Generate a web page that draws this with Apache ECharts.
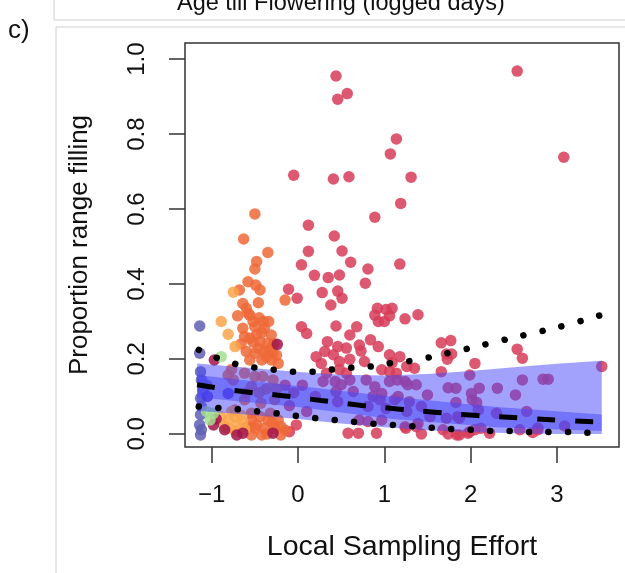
<!DOCTYPE html>
<html><head><meta charset="utf-8">
<script src="https://cdn.jsdelivr.net/npm/echarts@6/dist/echarts.min.js"></script>
<style>html,body{margin:0;padding:0;background:#fff}#c{width:625px;height:573px}</style>
</head><body><div id="c"></div>
<script>
const xTicks = [-1, 0, 1, 2, 3];
const yTicks = [0, 0.2, 0.4, 0.6, 0.8, 1.0];

const redPts = [
[0.44,0.955],[0.57,0.908],[0.46,0.893],[2.54,0.968],[1.14,0.787],[1.07,0.747],[3.08,0.738],
[-0.05,0.69],[0.41,0.68],[0.59,0.686],[1.31,0.685],[1.19,0.615],[0.89,0.578],[0.12,0.557],[0.42,0.528],
[0.12,0.487],[0.51,0.488],[0.61,0.458],[0.04,0.451],[1.18,0.453],[0.19,0.423],[0.35,0.417],[0.48,0.424],[0.81,0.44],
[0.78,0.402],[-0.11,0.386],[0.28,0.377],[0.46,0.381],[0.51,0.362],[-0.01,0.362],[0.38,0.344],
[0.92,0.335],[1.02,0.332],[1.09,0.335],[0.89,0.317],[1.06,0.315],[0.93,0.3],[1.0,0.3],[1.24,0.307],[1.39,0.318],
[0.04,0.286],[0.44,0.288],[0.68,0.286],[0.10,0.268],[0.60,0.264],
[0.34,0.246],[0.46,0.233],[0.71,0.237],[0.84,0.251],[0.93,0.233],[0.73,0.221],[0.31,0.22],[0.41,0.211],[0.21,0.206],
[0.60,0.199],[0.77,0.193],[1.06,0.211],[1.18,0.206],[0.27,0.188],[0.48,0.193],[1.26,0.18],[0.97,0.171],[1.06,0.166],
[1.14,0.162],[0.48,0.172],[0.56,0.162],[0.33,0.162],[0.56,0.229],[1.09,0.19],
[1.66,0.243],[1.77,0.249],[1.72,0.213],[1.78,0.213],[1.73,0.199],[1.66,0.166],[2.05,0.188],[1.35,0.175],
[2.54,0.226],[2.60,0.202],[3.52,0.18],
[1.99,0.157],[1.15,0.144],[1.27,0.131],[1.37,0.131],[1.74,0.123],[1.83,0.122],[2.10,0.122],[2.31,0.122],[2.60,0.144],[2.84,0.146],[2.90,0.146],
[1.50,0.104],[2.01,0.108],[2.02,0.091],[2.52,0.104],[1.83,0.084],[2.07,0.084],[1.12,0.091],[1.43,0.073],[2.09,0.064],[2.65,0.06],
[2.30,0.055],[3.09,0.021],[1.85,0.046],[1.72,0.042],[1.53,0.046],[1.39,0.028],[2.78,0.016],[1.29,0.086],[2.12,0.015],[1.37,0.019],[1.87,0.042],
[0.29,0.14],[0.43,0.14],[0.50,0.131],[0.60,0.144],[0.79,0.144],[0.89,0.126],[0.97,0.108],[1.06,0.14],[1.24,0.14],
[0.44,0.113],[0.64,0.113],[0.87,0.1],[0.95,0.091],[1.16,0.1],[0.46,0.086],[1.02,0.068],[0.81,0.073],[1.26,0.06],
[0.71,0.037],[0.81,0.033],[0.97,0.037],[1.24,0.019],
[-0.15,0.13],[-0.05,0.11],[0.05,0.13],[-0.1,0.075],[0.1,0.06],[0.2,0.1],
[1.25,0.015],[1.43,0.0],[1.68,0.011],[1.74,0.0],[1.84,-0.003],[1.87,-0.003],[1.97,0.002],[1.99,0.006],[2.22,0.002],[2.72,0.004],[2.78,0.011],[2.05,0.011],[2.57,0.011],
[0.58,0.002],[0.70,0.002],[0.91,0.002],[-0.10,0.006],[-0.02,0.024]
];
const orangePts = [
[-0.50,0.587],[-0.63,0.52],[-0.35,0.484],[-0.48,0.46],[-0.50,0.44],[-0.58,0.406],[-0.49,0.397],[-0.44,0.384],[-0.68,0.384],
[-0.15,0.357],[-0.64,0.348],[-0.46,0.35],[-0.60,0.335],[-0.58,0.322],[-0.70,0.315],[-0.56,0.317],[-0.64,0.282],[-0.50,0.286],
[-0.39,0.282],[-0.31,0.264],[-0.56,0.255],[-0.44,0.246],[-0.35,0.242],[-0.60,0.22],[-0.50,0.215],[-0.39,0.22],[-0.29,0.215],
[-0.56,0.197],[-0.42,0.197],[-0.31,0.197],[-0.23,0.188],
[-0.45,0.31],[-0.40,0.30],[-0.52,0.30],[-0.34,0.30],[-0.42,0.27],[-0.48,0.265],[-0.62,0.26],[-0.33,0.225],[-0.46,0.228],[-0.52,0.245],[-0.28,0.24],[-0.66,0.24],[-0.37,0.205],[-0.25,0.21],
[-0.77,0.172],[-0.81,0.157],[-0.75,0.144],[-0.62,0.162],[-0.50,0.153],[-0.41,0.153],[-0.29,0.144],[-0.54,0.126],[-0.37,0.12],
[-0.62,0.091],[-0.43,0.082],[-0.27,0.091],[-0.73,0.064],[-0.54,0.055],[-0.32,0.055],[-0.45,0.11],[-0.6,0.11],[-0.25,0.12],
[-0.54,0.037],[-0.44,0.046],[-0.35,0.037],[-0.23,0.037],[-0.50,0.015],[-0.39,0.015],[-0.27,0.015],[-0.20,0.02],
[-0.54,-0.003],[-0.42,-0.003],[-0.20,-0.003],[-0.48,0.024],[-0.30,0.03],[-0.15,0.01],[-0.58,0.02],[-0.36,0.0]
];
const lightOrangePts = [
[-0.75,0.378],[-0.89,0.30],[-0.81,0.266],[-0.73,0.233],[-0.89,0.046],[-0.81,0.037],[-0.73,0.046],[-0.70,0.024],
[-0.81,0.016],[-0.64,0.033],[-0.73,0.008],[-0.86,0.022],[-0.77,0.06],[-0.66,0.05],[-0.62,0.012]
];
const magentaPts = [[-0.24,0.239],[-0.97,0.197],[-0.95,0.04],[-0.98,0.024],[-0.85,0.011],[-0.71,-0.003],[-0.64,0.002],[-0.29,0.002]];
const slatePts = [[-1.14,0.288],[-1.14,0.215],[-1.13,0.166],[-1.12,0.144],[-1.10,0.117],[-1.13,0.095],[-1.12,0.073],[-1.13,0.051],[-1.14,0.024],[-1.12,0.011],[-1.13,-0.003],[-1.06,0.13]];
const greenPts = [[-0.89,0.206],[-1.02,0.037],[-0.98,0.055],[-1.06,0.06]];
const bluePts = [[-0.81,0.108],[-1.05,0.1]];

// prediction band (outer) and confidence band (inner)
const bandX = [-1.17, -0.5, 0, 0.5, 1.0, 1.5, 2.0, 2.5, 3.0, 3.52];
const bandLower = [0.062, 0.05, 0.04, 0.028, 0.018, 0.01, 0.005, 0.002, 0.0, 0.0];
const bandUpper = [0.188, 0.175, 0.165, 0.158, 0.156, 0.160, 0.168, 0.178, 0.187, 0.195];
const innerX = [-1.17, 0, 1.1, 2.3, 3.52];
const innerLower = [0.098, 0.072, 0.04, 0.018, 0.008];
const innerUpper = [0.157, 0.128, 0.099, 0.072, 0.052];
// fitted line
const fitX = [-1.17, -0.64, -0.18, 0.27, 0.74, 1.18, 1.62, 2.08, 2.55, 3.0, 3.52];
const fitY = [0.131, 0.113, 0.102, 0.089, 0.076, 0.066, 0.057, 0.049, 0.043, 0.037, 0.031];
// dotted bounds
const upX = [-1.15,-0.93,-0.73,-0.5,-0.27,-0.05,0.17,0.4,0.63,0.85,1.08,1.31,1.75,2.19,2.63,3.07,3.51];
const upY = [0.224,0.202,0.187,0.177,0.171,0.166,0.166,0.172,0.177,0.18,0.189,0.195,0.216,0.24,0.264,0.288,0.317];
const loX = [-1.15,-0.93,-0.7,-0.47,-0.25,-0.02,0.2,0.42,0.65,0.87,1.1,1.33,1.56,1.78,2.01,2.24,2.47,2.7,2.92,3.15,3.37,3.51];
const loY = [0.073,0.069,0.066,0.06,0.055,0.048,0.042,0.037,0.032,0.027,0.024,0.02,0.016,0.013,0.011,0.008,0.008,0.005,0.005,0.005,0.003,0.003];

const FONT = 'Liberation Sans, Arial, sans-serif';
const zip = (xs, ys) => xs.map((x, i) => [x, ys[i]]);

function scat(data, color) {
  return { type: 'scatter', data, symbolSize: 11.5, itemStyle: { color, opacity: 1 }, silent: true, z: 2 };
}
function band(xs, lo, hi) {
  return {
    type: 'custom', silent: true, z: 3, data: [[xs[0], lo[0]]],
    encode: { x: 0, y: 1 },
    renderItem: function (params, api) {
      const top = xs.map((x, i) => api.coord([x, hi[i]]));
      const bot = xs.map((x, i) => api.coord([x, lo[i]])).reverse();
      return { type: 'polygon', shape: { points: top.concat(bot) }, style: { fill: 'rgba(70,70,250,0.5)' } };
    }
  };
}

const chart = echarts.init(document.getElementById('c'), null, { renderer: 'canvas' });
chart.setOption({
  animation: false,
  backgroundColor: '#fff',
  grid: { left: 185, right: 6, top: 43, bottom: 126, show: true, borderColor: '#333', borderWidth: 1.5 },
  xAxis: {
    type: 'value', min: -1.31, max: 3.72,
    name: 'Local Sampling Effort', nameLocation: 'middle', nameGap: 86,
    nameTextStyle: { fontFamily: FONT, fontSize: 28.5, color: '#111' },
    axisLine: { show: false, onZero: false },
    axisTick: { show: true, length: 16, customValues: xTicks, lineStyle: { color: '#333', width: 1.5 } },
    axisLabel: { customValues: xTicks, margin: 36, fontFamily: FONT, fontSize: 24, color: '#111',
      formatter: v => (v < 0 ? '\u2212' + Math.abs(v) : String(v)) },
    splitLine: { show: false }
  },
  yAxis: {
    type: 'value', min: -0.035, max: 1.043,
    name: 'Proportion range filling', nameLocation: 'middle', nameGap: 92, nameRotate: 90,
    nameTextStyle: { fontFamily: FONT, fontSize: 26, color: '#111' },
    axisLine: { show: false, onZero: false },
    axisTick: { show: true, length: 16, customValues: yTicks, lineStyle: { color: '#333', width: 1.5 } },
    axisLabel: { customValues: yTicks, rotate: 90, margin: 36, fontFamily: FONT, fontSize: 24, color: '#111',
      formatter: v => v.toFixed(1) },
    splitLine: { show: false }
  },
  graphic: [
    { type: 'line', shape: { x1: 54, y1: 0, x2: 54, y2: 20 }, style: { stroke: '#d0d0d0', lineWidth: 1 } },
    { type: 'line', shape: { x1: 54, y1: 20, x2: 625, y2: 20 }, style: { stroke: '#d0d0d0', lineWidth: 1 } },
    { type: 'line', shape: { x1: 56, y1: 27, x2: 625, y2: 27 }, style: { stroke: '#d0d0d0', lineWidth: 1 } },
    { type: 'line', shape: { x1: 56, y1: 27, x2: 56, y2: 573 }, style: { stroke: '#d0d0d0', lineWidth: 1 } },
    { type: 'text', left: 177, top: -8, style: { text: 'Age till Flowering (logged days)', font: '23.5px ' + FONT, fill: '#111' } },
    { type: 'text', left: 8, top: 18, style: { text: 'c)', font: '26px ' + FONT, fill: '#111' } }
  ],
  series: [
    scat(redPts, 'rgba(215,60,88,0.85)'),
    scat(orangePts, 'rgba(238,105,55,0.85)'),
    scat(lightOrangePts, 'rgba(250,165,75,0.85)'),
    scat(magentaPts, 'rgba(160,20,75,0.85)'),
    scat(slatePts, 'rgba(95,95,180,0.85)'),
    scat(greenPts, 'rgba(165,222,145,0.85)'),
    scat(bluePts, 'rgba(70,40,200,0.85)'),
    band(bandX, bandLower, bandUpper),
    band(innerX, innerLower, innerUpper),
    { type: 'line', data: zip(fitX, fitY), smooth: true, symbol: 'none', silent: true, z: 5,
      lineStyle: { color: '#000', width: 5, type: [18, 20], cap: 'butt' } },
    { type: 'line', data: zip(upX, upY), smooth: true, symbol: 'none', silent: true, z: 5,
      lineStyle: { color: '#000', width: 6.5, type: [0.1, 19.4], cap: 'round' } },
    { type: 'line', data: zip(loX, loY), smooth: true, symbol: 'none', silent: true, z: 5,
      lineStyle: { color: '#000', width: 6.5, type: [0.1, 19.4], cap: 'round' } }
  ]
});
</script></body></html>
